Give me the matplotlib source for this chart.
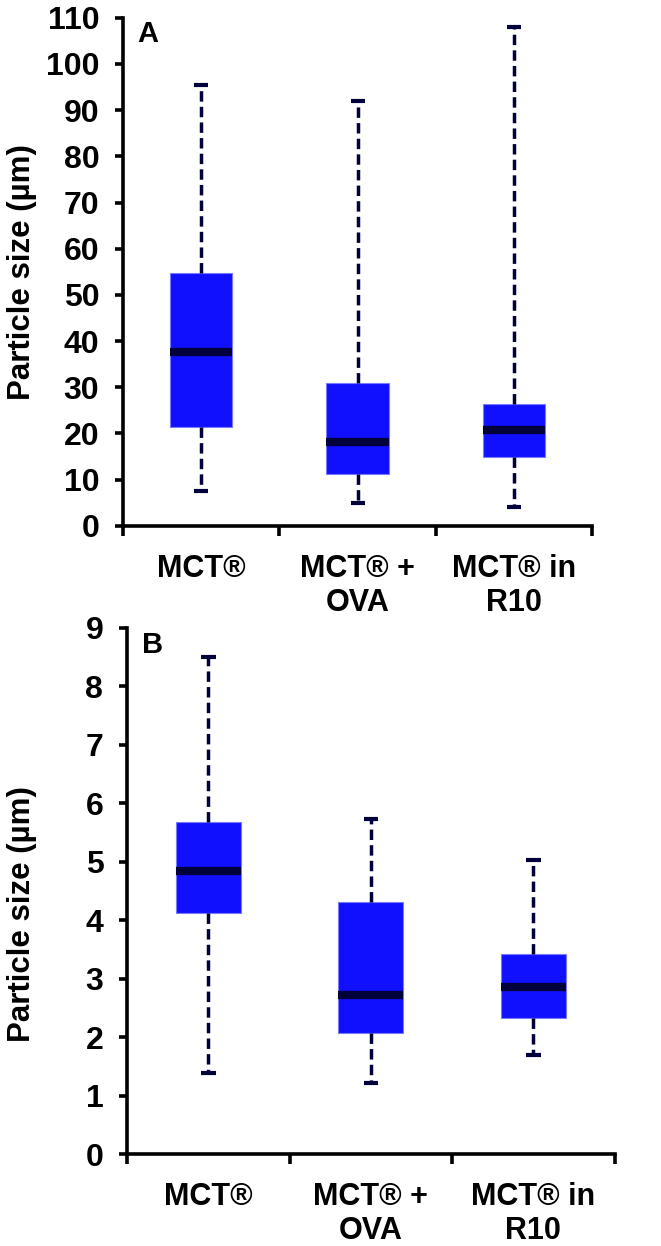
import matplotlib
matplotlib.use("Agg")
import matplotlib.pyplot as plt

plt.rcParams['font.family'] = ['Liberation Sans', 'DejaVu Sans']
plt.rcParams['font.weight'] = 'bold'

categories = ["MCT®", "MCT® +\nOVA", "MCT® in\nR10"]

# panel A (um): whisker low, q1, median, q3, whisker high
a_low = [7.6, 5.0, 4.1]
a_q1 = [21.4, 11.3, 14.9]
a_med = [37.7, 18.2, 20.8]
a_q3 = [54.8, 31.0, 26.4]
a_high = [95.5, 92.0, 108.0]

# panel B (um)
b_low = [1.39, 1.22, 1.70]
b_q1 = [4.13, 2.07, 2.33]
b_med = [4.85, 2.72, 2.86]
b_q3 = [5.68, 4.32, 3.42]
b_high = [8.51, 5.74, 5.03]

box_col = '#1010ff'
dark = '#00003a'


def make_stats(low, q1, med, q3, high):
    stats = []
    for i in range(len(med)):
        stats.append(dict(whislo=low[i], q1=q1[i], med=med[i], q3=q3[i],
                          whishi=high[i], fliers=[]))
    return stats


def draw_panel(ax, stats, ymax, ystep, letter):
    pos = [0.5, 1.5, 2.5]
    ax.bxp(stats, positions=pos, widths=0.4, patch_artist=True,
           showfliers=False, capwidths=0.09,
           boxprops=dict(facecolor=box_col, edgecolor='#7a7aff', linewidth=0.8),
           medianprops=dict(color=dark, linewidth=6, solid_capstyle='butt'),
           whiskerprops=dict(color=dark, linewidth=2.5, linestyle=(0, (3.0, 1.5))),
           capprops=dict(color=dark, linewidth=3, solid_capstyle='butt'))
    ax.set_xlim(0, 3)
    ax.set_ylim(0, ymax)
    for s in ['top', 'right']:
        ax.spines[s].set_visible(False)
    for s in ['left', 'bottom']:
        ax.spines[s].set_linewidth(2.6)
    ax.set_yticks([ystep * i for i in range(int(round(ymax / ystep)) + 1)])
    ax.tick_params(axis='y', direction='out', length=6, width=2.6,
                   labelsize=23, pad=11)
    ax.set_xticks([0, 1, 2, 3])
    ax.set_xticklabels([])
    ax.tick_params(axis='x', which='major', direction='out', length=7, width=2.6)
    ax.set_xticks(pos, minor=True)
    ax.set_xticklabels(categories, minor=True, fontsize=22, fontweight='bold')
    ax.tick_params(axis='x', which='minor', length=0, pad=20)
    ax.set_ylabel("Particle size (µm)", fontsize=22.5, fontweight='bold')
    for lab in ax.get_yticklabels():
        lab.set_fontweight('bold')
    ax.text(0.03, 0.995, letter, transform=ax.transAxes, fontsize=21,
            fontweight='bold', va='top', ha='left')


fig = plt.figure(figsize=(6.61, 12.46), dpi=100)
axA = fig.add_axes([0.186, 0.578, 0.710, 0.4077])
axB = fig.add_axes([0.192, 0.0738, 0.738, 0.4222])

draw_panel(axA, make_stats(a_low, a_q1, a_med, a_q3, a_high), 110, 10, "A")
draw_panel(axB, make_stats(b_low, b_q1, b_med, b_q3, b_high), 9, 1, "B")

# y labels sit near the left edge of the figure
axA.yaxis.set_label_coords(37 / 661, 0.782, transform=fig.transFigure)
axB.yaxis.set_label_coords(37 / 661, 0.2665, transform=fig.transFigure)

fig.savefig("out.png", dpi=100)
